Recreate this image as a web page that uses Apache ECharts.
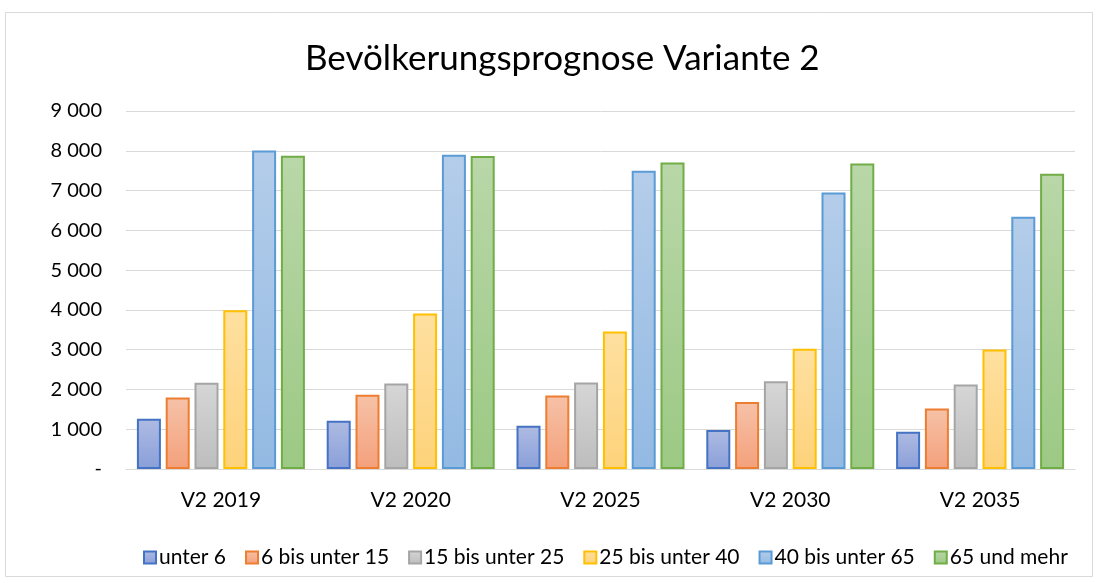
<!DOCTYPE html>
<html>
<head>
<meta charset="utf-8">
<script src="https://cdn.jsdelivr.net/npm/echarts@6/dist/echarts.min.js"></script>
<style>
  html, body { margin: 0; padding: 0; background: #fff; }
  #container { width: 1097px; height: 583px; }
</style>
</head>
<body>
<div id="container"></div>
<script>
var categories = ["V2 2019", "V2 2020", "V2 2025", "V2 2030", "V2 2035"];
var seriesNames = ["unter 6", "6 bis unter 15", "15 bis unter 25", "25 bis unter 40", "40 bis unter 65", "65 und mehr"];
var unter6 = [1264, 1213, 1088, 979, 937];
var von6bis15 = [1799, 1866, 1849, 1682, 1523];
var von15bis25 = [2167, 2151, 2176, 2209, 2126];
var von25bis40 = [3992, 3908, 3456, 3021, 3004];
var von40bis65 = [8008, 7900, 7498, 6954, 6343];
var ab65 = [7874, 7866, 7707, 7682, 7423];
var yTicks = [0, 1000, 2000, 3000, 4000, 5000, 6000, 7000, 8000, 9000];

var seriesData = [unter6, von6bis15, von15bis25, von25bis40, von40bis65, ab65];
var borders = ["#4472C4", "#ED7D31", "#A5A5A5", "#FFC000", "#5B9BD5", "#70AD47"];
var tops = ["#AEBBE2", "#F6C2A8", "#D6D6D6", "#FFE0A0", "#B4CDEA", "#B9D7A8"];
var bottoms = ["#8A9FD9", "#F4A07B", "#BDBDBD", "#FDD27A", "#93BAE3", "#9CC984"];

var font = "Lato, 'Open Sans', sans-serif";

var dom = document.getElementById("container");
var myChart = echarts.init(dom, null, { renderer: "canvas" });

function fmt(v) {
  if (v === 0) return "-";
  return String(v).replace(/\B(?=(\d{3})+(?!\d))/g, " ");
}

var series = seriesNames.map(function (name, i) {
  return {
    name: name,
    type: "bar",
    data: seriesData[i],
    barWidth: 24,
    barGap: "20%",
    itemStyle: {
      color: new echarts.graphic.LinearGradient(0, 0, 0, 1, [
        { offset: 0, color: tops[i] },
        { offset: 1, color: bottoms[i] },
      ]),
      borderColor: borders[i],
      borderWidth: 2,
    },
  };
});

var option = {
  animation: false,
  title: {
    text: "Bevölkerungsprognose Variante 2",
    left: 300,
    top: 36,
    textStyle: { fontFamily: font, fontSize: 35, fontWeight: "normal", color: "#000" },
  },
  graphic: [
    {
      type: "rect",
      shape: { x: 5.5, y: 12.5, width: 1087, height: 564 },
      style: { fill: null, stroke: "#D9D9D9", lineWidth: 1 },
      silent: true,
    },
  ],
  legend: {
    top: 542,
    left: 138,
    itemWidth: 12,
    itemHeight: 12,
    itemGap: 19,
    icon: "rect",
    textStyle: { fontFamily: font, fontSize: 21, color: "#000", padding: [0, 0, 0, -2] },
    data: seriesNames,
  },
  grid: { left: 126, right: 22, top: 111, bottom: 114 },
  xAxis: {
    type: "category",
    data: categories,
    axisLine: { lineStyle: { color: "#D9D9D9", width: 1 } },
    axisTick: { show: false },
    axisLabel: { fontFamily: font, fontSize: 21, color: "#000", margin: 21 },
  },
  yAxis: {
    type: "value",
    min: yTicks[0],
    max: yTicks[yTicks.length - 1],
    interval: 1000,
    axisLine: { show: false },
    axisTick: { show: false },
    splitLine: { lineStyle: { color: "#D9D9D9", width: 1 } },
    axisLabel: { fontFamily: font, fontSize: 20, color: "#000", margin: 24, formatter: fmt },
  },
  series: series,
};

myChart.setOption(option);
window.addEventListener("resize", myChart.resize);
</script>
</body>
</html>
